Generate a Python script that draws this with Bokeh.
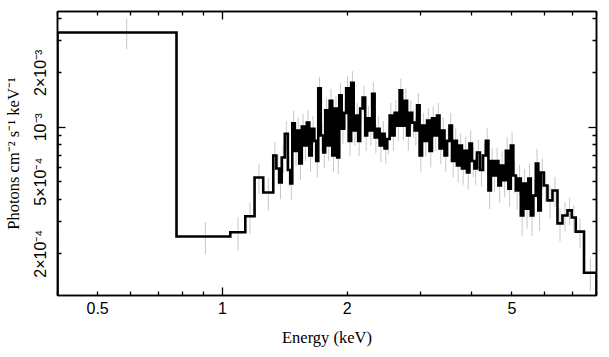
from bokeh.plotting import figure
from bokeh.models import LogAxis, FixedTicker, Range1d, ColumnDataSource
from bokeh.embed import file_html
from bokeh.resources import INLINE

# ---- data ----
# bin edges in keV
edges = [0.4, 0.775, 1.045, 1.136, 1.196, 1.255,
         1.327, 1.350, 1.372, 1.391, 1.415, 1.439, 1.459, 1.475, 1.496, 1.516,
         1.533, 1.555, 1.576, 1.599, 1.621, 1.644, 1.667, 1.685, 1.704, 1.728,
         1.752, 1.771, 1.796, 1.816, 1.842, 1.867, 1.893, 1.915, 1.941, 1.968,
         1.990, 2.018, 2.046, 2.075, 2.104, 2.127, 2.151, 2.181, 2.212, 2.236,
         2.268, 2.299, 2.331, 2.364, 2.397, 2.430, 2.464, 2.499, 2.534, 2.569,
         2.605, 2.641, 2.678, 2.716, 2.754, 2.792, 2.831, 2.871, 2.911, 2.951,
         2.993, 3.034, 3.077, 3.120, 3.162, 3.206, 3.251, 3.297, 3.343, 3.389,
         3.437, 3.485, 3.533, 3.583, 3.633, 3.683, 3.735, 3.787, 3.840, 3.894,
         3.948, 4.003, 4.059, 4.116, 4.185, 4.255, 4.326, 4.387, 4.448, 4.510,
         4.573, 4.637, 4.702, 4.767, 4.834, 4.902, 4.970, 5.039, 5.110, 5.181,
         5.253, 5.327, 5.401, 5.477, 5.553, 5.631, 5.709, 5.789, 5.870, 5.968,
         6.092, 6.264, 6.440, 6.621, 6.808, 6.972, 7.129, 7.464,
         8.0]

# flux in photons cm^-2 s^-1 keV^-1
flux = [3.34e-3, 2.49e-4, 2.63e-4, 3.22e-4, 5.27e-4, 4.36e-4,
        6.98e-4, 5.91e-4, 4.95e-4, 6.80e-4, 9.2e-4, 5.8e-4, 4.89e-4, 10.5e-4, 7.4e-4, 9.6e-4,
        6.3e-4, 10.1e-4, 7.92e-4, 10.6e-4, 6.98e-4, 9.8e-4, 8.4e-4, 6.5e-4, 16.4e-4, 9.0e-4,
        7.25e-4, 12.4e-4, 7.92e-4, 14.0e-4, 6.98e-4, 12.7e-4, 6.8e-4, 15.0e-4, 9.8e-4, 12.0e-4,
        16.4e-4, 8.4e-4, 17.6e-4, 9.6e-4, 11.6e-4, 8.4e-4, 12.7e-4, 14.6e-4, 9.0e-4, 11.2e-4,
        9.6e-4, 15.3e-4, 8.77e-4, 9.8e-4, 7.92e-4, 9.2e-4, 7.63e-4, 8.6e-4, 11.6e-4, 9.0e-4,
        12.0e-4, 10.2e-4, 16.0e-4, 10.2e-4, 14.0e-4, 9.0e-4, 12.0e-4, 10.6e-4, 9.6e-4, 13.2e-4,
        6.98e-4, 10.2e-4, 8.4e-4, 10.9e-4, 7.4e-4, 11.2e-4, 9.0e-4, 11.6e-4, 7.63e-4, 9.6e-4,
        6.98e-4, 8.4e-4, 10.2e-4, 6.5e-4, 8.4e-4, 6.14e-4, 7.92e-4, 5.91e-4, 7.4e-4, 5.62e-4,
        8.13e-4, 6.5e-4, 5.91e-4, 7.25e-4, 5.8e-4, 6.98e-4, 8.4e-4, 4.47e-4, 6.5e-4, 5.41e-4,
        6.5e-4, 4.76e-4, 6.14e-4, 5.1e-4, 7.4e-4, 4.58e-4, 7.92e-4, 5.41e-4, 4.47e-4, 5.21e-4,
        3.25e-4, 4.89e-4, 3.55e-4, 5.21e-4, 3.25e-4, 4.19e-4, 6.3e-4, 3.47e-4, 5.62e-4, 4.76e-4,
        3.94e-4, 4.47e-4, 2.94e-4, 3.25e-4, 3.47e-4, 3.17e-4, 2.65e-4, 1.57e-4]

flux_err = [6.5e-4, 0.5e-4, 0.55e-4, 0.64e-4, 1.0e-4, 0.9e-4,
            1.3e-4, 1.1e-4, 0.95e-4, 1.2e-4, 1.6e-4, 1.1e-4, 0.95e-4, 1.8e-4, 1.3e-4, 1.7e-4,
            1.2e-4, 1.8e-4, 1.4e-4, 1.8e-4, 1.3e-4, 1.7e-4, 1.5e-4, 1.2e-4, 2.6e-4, 1.6e-4,
            1.3e-4, 2.1e-4, 1.4e-4, 2.3e-4, 1.3e-4, 2.2e-4, 1.3e-4, 2.5e-4, 1.7e-4, 2.1e-4,
            2.7e-4, 1.5e-4, 2.8e-4, 1.7e-4, 2.0e-4, 1.5e-4, 2.2e-4, 2.4e-4, 1.6e-4, 1.9e-4,
            1.7e-4, 2.5e-4, 1.6e-4, 1.7e-4, 1.5e-4, 1.6e-4, 1.4e-4, 1.5e-4, 2.0e-4, 1.6e-4,
            2.1e-4, 1.8e-4, 2.6e-4, 1.8e-4, 2.4e-4, 1.6e-4, 2.1e-4, 1.9e-4, 1.7e-4, 2.2e-4,
            1.3e-4, 1.8e-4, 1.5e-4, 1.9e-4, 1.4e-4, 1.9e-4, 1.6e-4, 2.0e-4, 1.4e-4, 1.7e-4,
            1.3e-4, 1.5e-4, 1.8e-4, 1.2e-4, 1.5e-4, 1.2e-4, 1.4e-4, 1.1e-4, 1.4e-4, 1.1e-4,
            1.5e-4, 1.2e-4, 1.1e-4, 1.3e-4, 1.1e-4, 1.3e-4, 1.5e-4, 0.95e-4, 1.2e-4, 1.0e-4,
            1.2e-4, 0.95e-4, 1.2e-4, 1.0e-4, 1.4e-4, 0.95e-4, 1.5e-4, 1.1e-4, 0.95e-4, 1.0e-4,
            0.75e-4, 1.0e-4, 0.8e-4, 1.1e-4, 0.75e-4, 0.9e-4, 1.3e-4, 0.8e-4, 1.1e-4, 0.9e-4,
            0.8e-4, 0.85e-4, 0.6e-4, 0.6e-4, 0.6e-4, 0.55e-4, 0.5e-4, 0.32e-4]

x_tick_values = [0.5, 1, 2, 5]
x_tick_labels = ["0.5", "1", "2", "5"]
x_decade_ticks = [1]
x_minor_ticks = [0.4, 0.5, 0.6, 0.7, 0.8, 0.9, 2, 3, 4, 5, 6, 7, 8]

y_tick_values = [2e-4, 5e-4, 1e-3, 2e-3]
y_tick_labels = ["2×10⁻⁴", "5×10⁻⁴", "10⁻³", "2×10⁻³"]
y_decade_ticks = [1e-3]
y_minor_ticks = [2e-4, 3e-4, 4e-4, 5e-4, 6e-4, 7e-4, 8e-4, 9e-4, 2e-3, 3e-3, 4e-3]

x_lim = (0.4, 8.0)
y_lim = (1.175e-4, 4.36e-3)

# ---- derived geometry ----
n = len(flux)
lo = edges[:n]
hi = edges[1:n + 1]
centers = [(a + b) / 2 for a, b in zip(lo, hi)]
base = y_lim[0] / 10.0
xs, ys = [lo[0]], [base]
for a, b, f in zip(lo, hi, flux):
    xs += [a, b]
    ys += [f, f]
xs.append(hi[-1])
ys.append(base)

err_src = ColumnDataSource(dict(
    x=centers,
    y0=[f - e for f, e in zip(flux, flux_err)],
    y1=[f + e for f, e in zip(flux, flux_err)],
))

SANS = "Liberation Sans"
SERIF = "Liberation Serif"

p = figure(width=609, height=357, x_axis_type="log", y_axis_type="log",
           x_range=Range1d(*x_lim), y_range=Range1d(*y_lim),
           x_axis_location=None, y_axis_location=None,
           output_backend="svg", toolbar_location=None,
           min_border_left=55, min_border_right=13,
           min_border_top=11, min_border_bottom=62)
p.background_fill_color = "white"
p.border_fill_color = "white"
p.outline_line_color = "black"
p.outline_line_width = 1.5
p.grid.visible = False


def tick_axis(major, minor):
    return LogAxis(ticker=FixedTicker(ticks=major, minor_ticks=minor),
                   major_tick_in=8, major_tick_out=0,
                   minor_tick_in=4, minor_tick_out=0,
                   major_tick_line_width=1.3, minor_tick_line_width=1.3,
                   major_tick_line_color="black", minor_tick_line_color="black",
                   major_label_overrides={t: " " for t in major},
                   major_label_text_font_size="1px", major_label_text_alpha=0,
                   major_label_standoff=0,
                   axis_line_width=1.5, axis_line_color="black")


def label_axis(vals, labels, title, standoff, title_standoff, orientation="horizontal"):
    return LogAxis(ticker=FixedTicker(ticks=vals, minor_ticks=[]),
                   major_label_overrides=dict(zip(vals, labels)),
                   major_tick_line_color=None, minor_tick_line_color=None,
                   major_tick_in=0, major_tick_out=0,
                   axis_line_color=None,
                   major_label_standoff=standoff,
                   major_label_orientation=orientation,
                   major_label_text_font=SANS, major_label_text_font_size="16px",
                   major_label_text_color="black",
                   axis_label=title, axis_label_text_font=SERIF,
                   axis_label_text_font_size="16.5px",
                   axis_label_text_font_style="normal",
                   axis_label_text_color="black",
                   axis_label_standoff=title_standoff)


p.add_layout(tick_axis(x_decade_ticks, x_minor_ticks), "below")
p.add_layout(label_axis(x_tick_values, x_tick_labels, "Energy (keV)", 6, 11), "below")
p.add_layout(tick_axis(y_decade_ticks, y_minor_ticks), "left")
p.add_layout(label_axis(y_tick_values, y_tick_labels,
                        "Photons cm⁻² s⁻¹ keV⁻¹", 8, 7, "vertical"), "left")
p.add_layout(tick_axis(x_decade_ticks, x_minor_ticks), "above")
p.add_layout(tick_axis(y_decade_ticks, y_minor_ticks), "right")

p.segment(x0="x", y0="y0", x1="x", y1="y1", source=err_src,
          line_color="#c8c8c8", line_width=1)
p.line(xs, ys, line_color="black", line_width=2.6, line_join="miter")

open("out.html", "w").write(file_html(p, INLINE))
